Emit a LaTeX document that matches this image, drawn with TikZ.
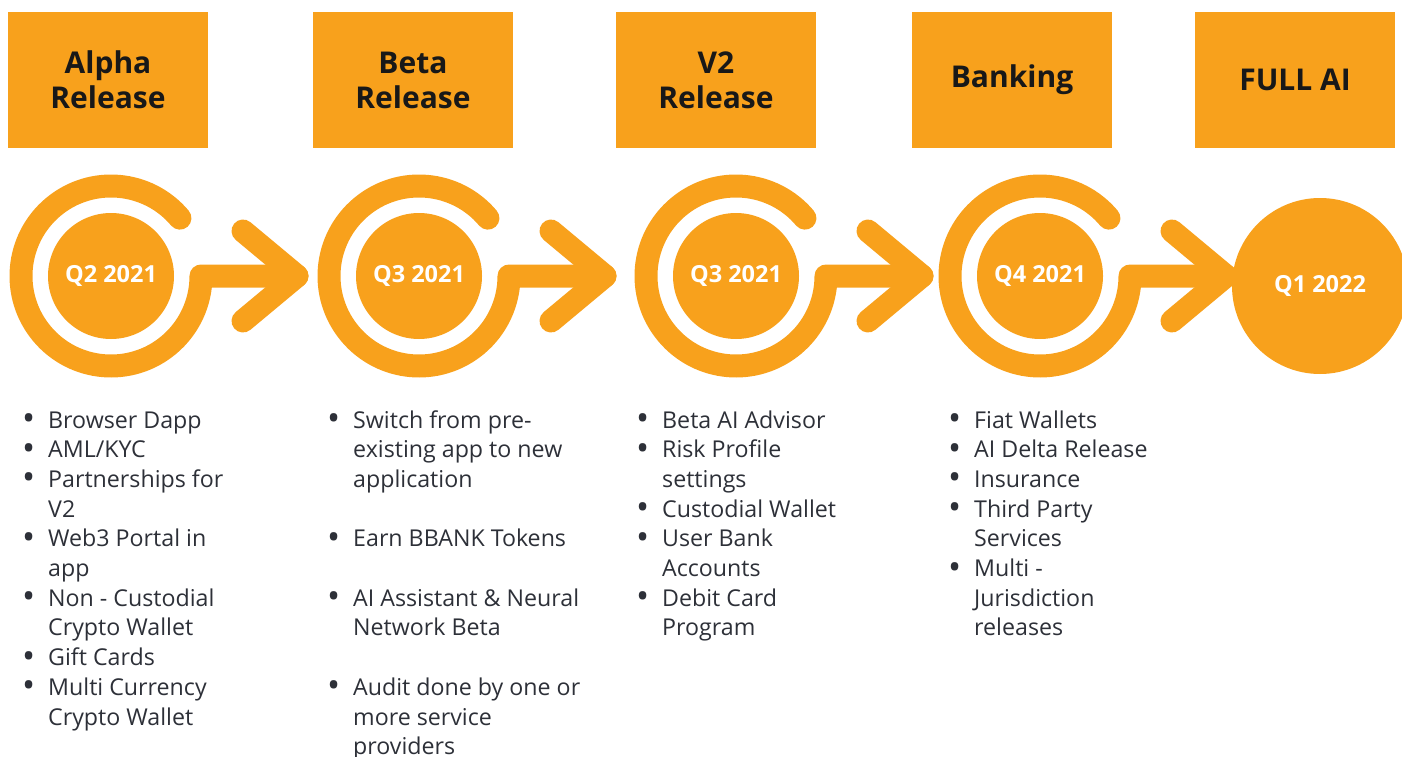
\documentclass[tikz,border=0pt]{standalone}
\usepackage{fontspec}
\setmainfont{Open Sans}
\usetikzlibrary{positioning}
\definecolor{roadorange}{RGB}{248,161,28}
\definecolor{bodygray}{RGB}{45,48,56}
\definecolor{headblack}{RGB}{24,24,24}
\tikzset{%
  phase/.style={rectangle,fill=roadorange,minimum width=200pt,minimum height=136pt,inner sep=0pt,align=center,text=headblack,font=\fontsize{30}{35}\selectfont\bfseries},
  quarter/.style={circle,fill=roadorange,minimum size=126pt,inner sep=0pt,text=white,font=\fontsize{23.5}{26}\selectfont\bfseries},
  turn/.style={draw=roadorange,line width=23pt,line cap=round,line join=round},
  tasks/.style={anchor=base west,inner sep=0pt,text=bodygray,font=\fontsize{23.2}{29.7}\selectfont}%
}
\newcommand{\itm}{\llap{\smash{\raisebox{-2.5pt}{\scalebox{1.5}{\textbullet}}}\hspace{13pt}}}

\begin{document}
\begin{tikzpicture}[x=1pt,y=-1pt]
    \useasboundingbox (0,0) rectangle (1402,757);

    \node (alpha) [phase] at (108,80) {Alpha\\Release};
    \node (beta) [phase] at (413,80) {Beta\\Release};
    \node (vtwo) [phase] at (716,80) {V2\\Release};
    \node (banking) [phase] at (1012,80) {Banking};
    \node (fullai) [phase] at (1295,80) {FULL AI};

    \node (q2) [quarter] at (111,276) {Q2 2021};
    \node (q3) [quarter] at (419,276) {Q3 2021};
    \node (q3b) [quarter] at (736,276) {Q3 2021};
    \node (q4) [quarter] at (1040,276) {Q4 2021};
    \node (q1) [quarter,minimum size=176pt] at (1320,286) {Q1 2022};

    % rings that turn into an arrow
    \foreach \q in {q2,q3,q3b,q4} {
      \draw[turn] (\q.center) ++(-40:90) arc[start angle=-40,end angle=-360,radius=90]
          -- ++(96,0) coordinate (\q tip);
      \draw[turn] (\q tip) ++(-54,-45) -- (\q tip) -- ++(-54,45);
    }

    \node (alphatasks) [tasks] at (48,428) {\begin{tabular}[t]{@{}l@{}}
      \itm Browser Dapp\\
      \itm AML/KYC\\
      \itm Partnerships for\\ V2\\
      \itm Web3 Portal in\\ app\\
      \itm Non - Custodial\\ Crypto Wallet\\
      \itm Gift Cards\\
      \itm Multi Currency\\ Crypto Wallet
    \end{tabular}};
    \node (betatasks) [tasks] at (353,428) {\begin{tabular}[t]{@{}l@{}}
      \itm Switch from pre-\\ existing app to new\\ application\\[29.7pt]
      \itm Earn BBANK Tokens\\[29.7pt]
      \itm AI Assistant \& Neural\\ Network Beta\\[29.7pt]
      \itm Audit done by one or\\ more service\\ providers
    \end{tabular}};
    \node (vtwotasks) [tasks] at (662,428) {\begin{tabular}[t]{@{}l@{}}
      \itm Beta AI Advisor\\
      \itm Risk Profile\\ settings\\
      \itm Custodial Wallet\\
      \itm User Bank\\ Accounts\\
      \itm Debit Card\\ Program
    \end{tabular}};
    \node (bankingtasks) [tasks] at (974,428) {\begin{tabular}[t]{@{}l@{}}
      \itm Fiat Wallets\\
      \itm AI Delta Release\\
      \itm Insurance\\
      \itm Third Party\\ Services\\
      \itm Multi -\\ Jurisdiction\\ releases
    \end{tabular}};
\end{tikzpicture}
\end{document}
